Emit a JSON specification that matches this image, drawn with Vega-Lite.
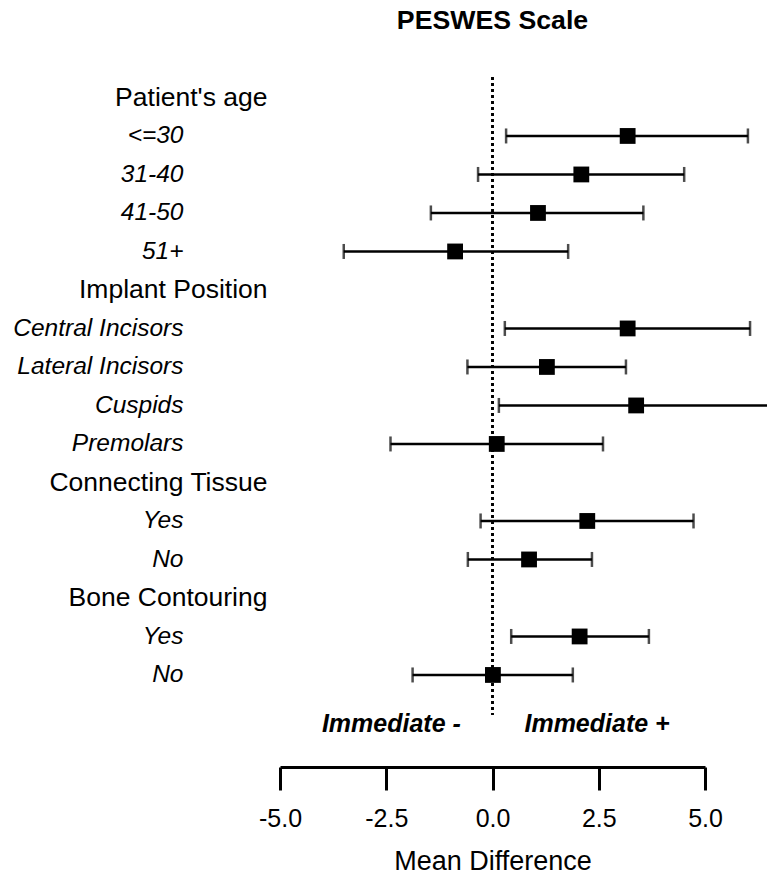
{
  "$schema": "https://vega.github.io/schema/vega-lite/v6.json",
  "autosize": "none",
  "padding": {"left": 280, "top": 77, "right": 62, "bottom": 162},
  "width": 425,
  "height": 638,
  "background": "white",
  "title": {"text": "PESWES Scale", "font": "Liberation Sans", "fontSize": 26.7, "fontWeight": "bold", "color": "black", "anchor": "middle", "baseline": "alphabetic", "offset": 21},
  "config": {"view": {"stroke": null}, "font": "Liberation Sans"},
  "datasets": {
    "rows": [
      {"row": "Patient's age|<=30", "mean": 3.18, "lo": 0.32, "hi": 6.01},
      {"row": "Patient's age|31-40", "mean": 2.09, "lo": -0.34, "hi": 4.51},
      {"row": "Patient's age|41-50", "mean": 1.07, "lo": -1.45, "hi": 3.55},
      {"row": "Patient's age|51+", "mean": -0.88, "lo": -3.5, "hi": 1.78},
      {"row": "Implant Position|Central Incisors", "mean": 3.18, "lo": 0.29, "hi": 6.06},
      {"row": "Implant Position|Lateral Incisors", "mean": 1.28, "lo": -0.59, "hi": 3.14},
      {"row": "Implant Position|Cuspids", "mean": 3.38, "lo": 0.15, "hi": 6.61},
      {"row": "Implant Position|Premolars", "mean": 0.1, "lo": -2.4, "hi": 2.6},
      {"row": "Connecting Tissue|Yes", "mean": 2.23, "lo": -0.28, "hi": 4.73},
      {"row": "Connecting Tissue|No", "mean": 0.86, "lo": -0.58, "hi": 2.34},
      {"row": "Bone Contouring|Yes", "mean": 2.05, "lo": 0.44, "hi": 3.68},
      {"row": "Bone Contouring|No", "mean": 0.01, "lo": -1.88, "hi": 1.89}
    ],
    "dir": [
      {"row": "dir", "x": -2.38, "label": "Immediate -"},
      {"row": "dir", "x": 2.46, "label": "Immediate +"}
    ]
  },
  "layer": [
    {
      "data": {"name": "rows"},
      "mark": {"type": "rule", "color": "black", "strokeWidth": 1.5, "strokeDash": [3, 3]},
      "encoding": {"x": {"datum": 0, "type": "quantitative"}}
    },
    {
      "data": {"name": "rows"},
      "mark": {"type": "rule", "color": "black", "strokeWidth": 2.5},
      "encoding": {
        "x": {"field": "lo", "type": "quantitative",
          "scale": {"domain": [-5, 5], "nice": false, "zero": false},
          "axis": {"orient": "bottom", "offset": 52, "values": [-5, -2.5, 0, 2.5, 5],
            "labelExpr": "(datum.value < 0 ? '-' : '') + format(abs(datum.value), '.1f')", "grid": false,
            "domainColor": "black", "domainWidth": 3, "tickColor": "black", "tickWidth": 3, "tickSize": 23,
            "labelFont": "Liberation Sans", "labelFontSize": 25, "labelColor": "black", "labelPadding": 16, "labelFlush": false,
            "title": "Mean Difference", "titleFont": "Liberation Sans", "titleFontSize": 27, "titleFontWeight": "normal", "titleColor": "black", "titlePadding": 17}},
        "x2": {"field": "hi"},
        "y": {"field": "row", "type": "nominal",
          "scale": {"type": "point", "domain": ["Patient's age", "Patient's age|<=30", "Patient's age|31-40", "Patient's age|41-50", "Patient's age|51+", "Implant Position", "Implant Position|Central Incisors", "Implant Position|Lateral Incisors", "Implant Position|Cuspids", "Implant Position|Premolars", "Connecting Tissue", "Connecting Tissue|Yes", "Connecting Tissue|No", "Bone Contouring", "Bone Contouring|Yes", "Bone Contouring|No", "dir"], "padding": 0.2857, "align": 0.93},
          "axis": {"title": null, "domain": false, "ticks": false, "grid": false,
            "labelExpr": "indexof(datum.value, '|') >= 0 ? split(datum.value, '|')[1] : (datum.value == 'dir' ? '' : datum.value)",
            "labelFont": "Liberation Sans", "labelColor": "black",
            "labelFontSize": {"condition": {"test": "indexof(datum.value, '|') >= 0", "value": 24.5}, "value": 26.5},
            "labelFontStyle": {"condition": {"test": "indexof(datum.value, '|') >= 0", "value": "italic"}, "value": "normal"},
            "labelPadding": {"condition": {"test": "indexof(datum.value, '|') >= 0", "value": 97}, "value": 13},
            "labelLimit": 400}}
      }
    },
    {
      "data": {"name": "rows"},
      "mark": {"type": "tick", "color": "black", "thickness": 2.5, "size": 15, "orient": "vertical"},
      "encoding": {
        "x": {"field": "lo", "type": "quantitative"},
        "y": {"field": "row", "type": "nominal"}
      }
    },
    {
      "data": {"name": "rows"},
      "mark": {"type": "tick", "color": "black", "thickness": 2.5, "size": 15, "orient": "vertical"},
      "encoding": {
        "x": {"field": "hi", "type": "quantitative"},
        "y": {"field": "row", "type": "nominal"}
      }
    },
    {
      "data": {"name": "rows"},
      "mark": {"type": "point", "shape": "square", "filled": true, "color": "black", "opacity": 1, "size": 250},
      "encoding": {
        "x": {"field": "mean", "type": "quantitative"},
        "y": {"field": "row", "type": "nominal"}
      }
    },
    {
      "data": {"name": "dir"},
      "mark": {"type": "text", "font": "Liberation Sans", "fontSize": 25, "fontWeight": "bold", "fontStyle": "italic", "color": "black", "align": "center", "baseline": "alphabetic", "dy": 19},
      "encoding": {
        "x": {"field": "x", "type": "quantitative"},
        "y": {"field": "row", "type": "nominal"},
        "text": {"field": "label"}
      }
    }
  ]
}
